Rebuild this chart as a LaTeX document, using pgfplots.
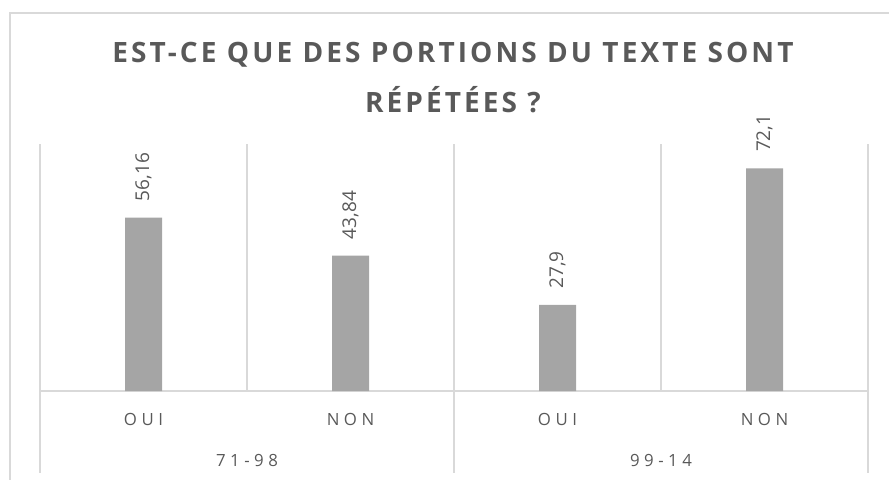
\documentclass[border=0pt]{standalone}
\usepackage{fontspec}
\setmainfont{Open Sans}
\newfontfamily\titlefont[LetterSpace=11]{Open Sans}
\newfontfamily\labelfont[LetterSpace=27]{Open Sans}
\usepackage{pgfplots}
\pgfplotsset{compat=1.18}
\definecolor{bargray}{HTML}{A5A5A5}
\definecolor{txtgray}{HTML}{595959}
\definecolor{linegray}{HTML}{D9D9D9}
\begin{document}
\begin{tikzpicture}
% outer chart frame (runs past the page on the right and bottom)
\draw[linegray, line width=0.8pt] (5pt,-10pt) rectangle (460pt,233pt);
\node[text=txtgray, font=\titlefont\bfseries\fontsize{14}{16}\selectfont] at (226.5pt,212pt) {EST-CE QUE DES PORTIONS DU TEXTE SONT};
\node[text=txtgray, font=\titlefont\bfseries\fontsize{14}{16}\selectfont] at (226.5pt,189.5pt) {RÉPÉTÉES ?};
\begin{axis}[
    at={(20pt,44pt)}, anchor=south west,
    width=414pt, height=123.5pt, scale only axis,
    xmin=-0.5, xmax=3.5, ymin=0, ymax=80,
    ybar, bar width=18.5pt,
    axis y line=none, axis x line*=bottom,
    x axis line style={draw=linegray, line width=0.8pt},
    ytick=\empty,
    xtick={-0.5,0.5,1.5,2.5,3.5}, xticklabels={},
    xmajorgrids, major grid style={draw=linegray, line width=0.8pt},
    major tick length=0pt,
    extra x ticks={0,1,2,3},
    extra x tick labels={OUI,NON,OUI,NON},
    extra x tick style={grid=none},
    xticklabel style={anchor=center, yshift=-14pt, text=txtgray, font=\labelfont\fontsize{8.4}{10}\selectfont},
    nodes near coords,
    nodes near coords style={rotate=90, anchor=west, inner sep=0pt, xshift=8pt, text=txtgray, font=\fontsize{9.5}{11}\selectfont},
    point meta=explicit symbolic,
    clip=false,
]
\addplot[fill=bargray, draw=none] coordinates {
    (0,56.16) [56,16]
    (1,43.84) [43,84]
    (2,27.9)  [27,9]
    (3,72.1)  [72,1]
};
% group separators and group labels below the axis
\draw[linegray, line width=0.8pt] (axis cs:-0.5,0) -- ([yshift=-41pt]axis cs:-0.5,0);
\draw[linegray, line width=0.8pt] (axis cs:1.5,0) -- ([yshift=-41pt]axis cs:1.5,0);
\draw[linegray, line width=0.8pt] (axis cs:3.5,0) -- ([yshift=-41pt]axis cs:3.5,0);
\node[text=txtgray, font=\labelfont\fontsize{8.4}{10}\selectfont] at ([yshift=-34.5pt]axis cs:0.5,0) {71-98};
\node[text=txtgray, font=\labelfont\fontsize{8.4}{10}\selectfont] at ([yshift=-34.5pt]axis cs:2.5,0) {99-14};
\end{axis}
\pgfresetboundingbox
\path[use as bounding box] (0,0) rectangle (444.5pt,239.5pt);
\end{tikzpicture}
\end{document}
